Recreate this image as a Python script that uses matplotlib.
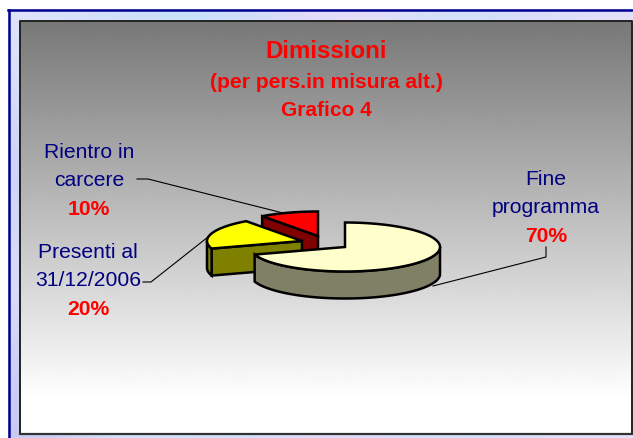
import matplotlib
matplotlib.use('Agg')
import matplotlib.pyplot as plt
from matplotlib.patches import Polygon
import numpy as np

plt.rcParams['font.family'] = ['Liberation Sans', 'DejaVu Sans']

# slices, clockwise from 12 o'clock
labels = ['Fine\nprogramma', 'Presenti al\n31/12/2006', 'Rientro in\ncarcere']
values = [70, 20, 10]
top_colors = ['#ffffcc', '#ffff00', '#ff0000']
side_colors = ['#808066', '#808000', '#800000']
centers = [(345, 248), (302, 242), (318, 237)]

title_lines = ['Dimissioni', '(per pers.in misura alt.)', 'Grafico 4']

# pale mottled backdrop colours, coarse grid
backdrop = [
    ['#dfe4fb', '#cfe0fa', '#c4e2fa', '#dcdcfa', '#ecdcf8', '#cfe4fa', '#d8dcfa', '#e4e0fa'],
    ['#c8ccf4', '#dfe0fa', '#e0e8fc', '#cfdcf8', '#d8e4fa', '#e4dcf8', '#c8e0f8', '#d8e0fa'],
    ['#e0e4fb', '#c8d4f6', '#d8e0f8', '#e4e8fc', '#cfe0f8', '#d8d8f8', '#e0e4fa', '#cfdcf8'],
    ['#c8c8f2', '#d8e8fa', '#c8e0f6', '#dcdcf8', '#e4d8f6', '#c8e4fa', '#dcdcf8', '#e4e4fa'],
]

RX, RY, DEPTH = 95, 24.5, 27


def point(c, theta):
    return c[0] + RX * np.sin(theta), c[1] - RY * np.cos(theta)


def draw_slice(ax, c, start, end, top, side):
    lw = 1.8
    # radial walls, only those facing the viewer
    walls = []
    if np.sin(start) < -1e-6:
        walls.append(start)
    if np.sin(end) > 1e-6:
        walls.append(end)
    for t in walls:
        x, y = point(c, t)
        ax.add_patch(Polygon([c, (x, y), (x, y + DEPTH), (c[0], c[1] + DEPTH)],
                             fc=side, ec='black', lw=lw, zorder=3))
    # outer wall
    a = max(start, np.pi / 2)
    b = min(end, 3 * np.pi / 2)
    if b > a:
        th = np.linspace(a, b, 80)
        x, y = point(c, th)
        pts = list(zip(x, y)) + list(zip(x[::-1], y[::-1] + DEPTH))
        ax.add_patch(Polygon(pts, fc=side, ec='black', lw=lw, zorder=3))
    th = np.linspace(start, end, 120)
    x, y = point(c, th)
    ax.add_patch(Polygon([c] + list(zip(x, y)), fc=top, ec='black', lw=lw, zorder=3))


fig = plt.figure(figsize=(6.33, 4.39), dpi=100)
ax = fig.add_axes([0, 0, 1, 1])
ax.axis('off')

rgb = np.array([[matplotlib.colors.to_rgb(c) for c in row] for row in backdrop])
ax.imshow(rgb, extent=(8, 633, 439, 10), aspect='auto', interpolation='bicubic', zorder=0)
ax.plot([8.5, 8.5], [439, 10.5], color='#000090', lw=1.8, zorder=1)
ax.plot([8, 633], [10.5, 10.5], color='#000090', lw=1.8, zorder=1)

# grey to white panel, white is reached a little above the bottom edge
grad = np.clip(0.47 + 0.53 * np.linspace(0, 413 / 378, 256), 0, 1).reshape(-1, 1)
ax.imshow(grad, extent=(20, 632, 435, 22), aspect='auto', cmap='gray',
          vmin=0, vmax=1, zorder=1)
ax.plot([20, 20, 632, 632], [435, 22, 22, 435], color='#222222', lw=1.4, zorder=2)
ax.plot([20, 632], [435, 435], color='#333333', lw=1.6, zorder=2)
ax.set_xlim(0, 633)
ax.set_ylim(439, 0)

# leader lines
ax.plot([137, 148, 283], [180, 180, 214], color='black', lw=0.8, zorder=2)
ax.plot([143, 151, 208], [283, 283, 238], color='black', lw=0.8, zorder=2)
ax.plot([433, 546, 546], [287, 258, 248], color='black', lw=0.8, zorder=2)

# back to front
cum = np.cumsum([0] + values) / sum(values) * 2 * np.pi
for i in [2, 1, 0]:
    draw_slice(ax, centers[i], cum[i], cum[i + 1], top_colors[i], side_colors[i])

# title
for line, y, fs in zip(title_lines, [52, 82.5, 110.5], [17.4, 15.2, 15]):
    ax.text(326, y, line, color='#ff0000', fontsize=fs, fontweight='bold',
            ha='center', va='center', zorder=4)

# labels, one text per line
label_pos = [(546, 180), (88, 253), (89, 153)]
for lab, val, (x, y) in zip(labels, values, label_pos):
    first, second = lab.split('\n')
    ax.text(x, y, first, color='#000080', fontsize=15.2, ha='center', va='center', zorder=4)
    ax.text(x, y + 28, second, color='#000080', fontsize=15.2, ha='center', va='center', zorder=4)
    ax.text(x, y + 56.5, f'{val}%', color='#ff0000', fontsize=15.2, fontweight='bold',
            ha='center', va='center', zorder=4)

fig.savefig('out.png', dpi=100)
